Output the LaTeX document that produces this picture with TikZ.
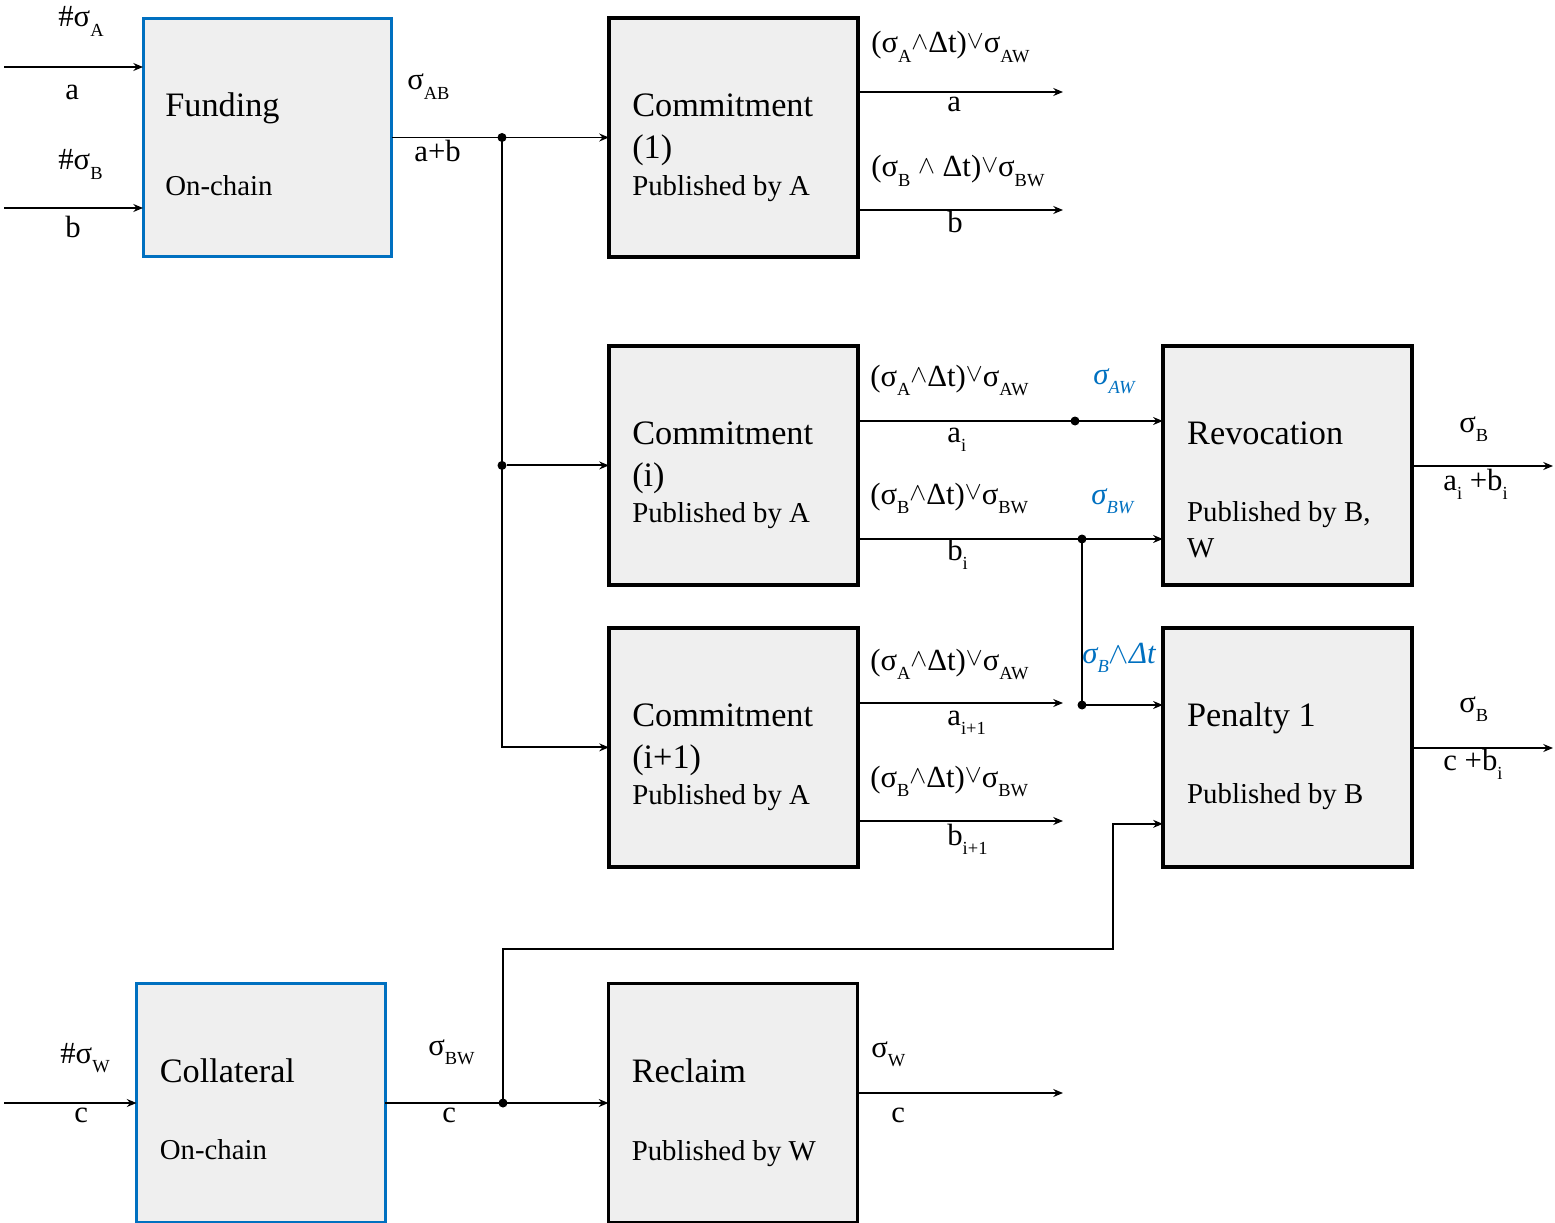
\documentclass[tikz,border=0pt]{standalone}
\usepackage{fontspec}
\setmainfont{Liberation Serif}
\usepackage{xcolor}
\usepackage{tikz}
\usetikzlibrary{arrows.meta, positioning, calc}
\definecolor{boxgray}{HTML}{EFEFEF}
\definecolor{chainblue}{HTML}{0070C0}
\definecolor{sigblue}{HTML}{0070C0}
\newcommand{\sub}[1]{\raisebox{-0.3em}{\fontsize{10.5}{12}\selectfont #1}}
\newcommand{\andsym}{\raisebox{0.1em}{\fontsize{15}{15}\selectfont$\wedge$}}
\newcommand{\orsym}{\raisebox{0.15em}{\fontsize{14}{14}\selectfont$\vee$}}
\tikzset{
    block/.style={
        rectangle,
        draw=black,
        line width=2pt,
        fill=boxgray,
        minimum width=4.98cm,
        minimum height=4.78cm,
        inner sep=0pt,
        outer sep=0pt
    },
    chain/.style={
        block,
        draw=chainblue,
        line width=1.7pt
    },
    title/.style={
        anchor=base west,
        inner sep=0pt,
        font=\fontsize{19.5}{23}\selectfont
    },
    subtitle/.style={
        anchor=base west,
        inner sep=0pt,
        font=\fontsize{16.4}{20}\selectfont
    },
    lbl/.style={
        anchor=base west,
        inner sep=0pt,
        font=\fontsize{17.5}{21}\selectfont
    },
    sig/.style={
        lbl,
        text=sigblue,
        font=\fontsize{17.5}{21}\selectfont\itshape
    },
    dot/.style={
        circle,
        fill=black,
        inner sep=0pt,
        minimum size=0.18cm
    },
    wire/.style={
        draw=black,
        line width=1.1pt,
        -{Stealth[length=5.5pt, width=4.5pt]}
    },
    track/.style={
        draw=black,
        line width=1.1pt
    }
}

\begin{document}
\begin{tikzpicture}[x=0.02cm, y=-0.02cm]
\useasboundingbox (0,0) rectangle (1555,1223);

% Funding and commitment transactions
\node[chain] (fund) at (267.5,137.5) {};
\node[block, right=4.34cm of fund] (com1) {};
\node[block, below=1.78cm of com1] (comi) {};
\node[block, below=0.86cm of comi] (comn) {};

% Revocation and penalty
\node[block, right=6.1cm of comi] (revo) {};
\node[block, right=6.1cm of comn] (pen) {};

% Collateral and reclaim
\node[chain] (coll) at (261,1103) {};
\node[block, right=4.46cm of coll] (recl) {};

% Box texts
\node[title] (fundT) at ($(fund.north west)+(22,98.5)$) {Funding};
\node[subtitle] (fundS) at ($(fund.north west)+(22,177)$) {On-chain};

\node[title] (com1T) at ($(com1.north west)+(23,98.5)$) {Commitment};
\node[title] (com1N) at ($(com1.north west)+(23,140.5)$) {(1)};
\node[subtitle] (com1S) at ($(com1.north west)+(23,177)$) {Published by A};

\node[title] (comiT) at ($(comi.north west)+(23,98.5)$) {Commitment};
\node[title] (comiN) at ($(comi.north west)+(23,140.5)$) {(i)};
\node[subtitle] (comiS) at ($(comi.north west)+(23,177)$) {Published by A};

\node[title] (comnT) at ($(comn.north west)+(23,98.5)$) {Commitment};
\node[title] (comnN) at ($(comn.north west)+(23,140.5)$) {(i+1)};
\node[subtitle] (comnS) at ($(comn.north west)+(23,177)$) {Published by A};

\node[title] (revoT) at ($(revo.north west)+(24,98.5)$) {Revocation};
\node[subtitle] (revoS) at ($(revo.north west)+(24,176)$) {Published by B,};
\node[subtitle] (revoW) at ($(revo.north west)+(24,212)$) {W};

\node[title] (penT) at ($(pen.north west)+(24,98.5)$) {Penalty 1};
\node[subtitle] (penS) at ($(pen.north west)+(24,176)$) {Published by B};

\node[title] (collT) at ($(coll.north west)+(23,99)$) {Collateral};
\node[subtitle] (collS) at ($(coll.north west)+(23,176)$) {On-chain};

\node[title] (reclT) at ($(recl.north west)+(23,98.5)$) {Reclaim};
\node[subtitle] (reclS) at ($(recl.north west)+(23,177)$) {Published by W};

% Inputs to funding
\coordinate (inA) at (4,67);
\coordinate (inB) at (4,208);
\draw[wire] (inA) -- (inA -| fund.west);
\draw[wire] (inB) -- (inB -| fund.west);
\node[lbl] (hashA) at (58,27) {\#σ\sub{A}};
\node[lbl] (valA) at (65,100) {a};
\node[lbl] (hashB) at (58,170) {\#σ\sub{B}};
\node[lbl] (valB) at (65,237) {b};

% Funding output split
\node[dot] (jtop) at (502,137.5) {};
\draw[wire] (fund.east) -- (com1.west);
\node[dot] (jmid) at (jtop |- comi.west) {};
\draw[wire] (jmid) -- (comi.west);
\draw[wire] (jtop.center) |- (comn.west);
\node[lbl] (sigAB) at (407,90) {σ\sub{AB}};
\node[lbl] (valAB) at (414,162) {a+b};

% Commitment (1) outputs
\coordinate (o1a) at (1063,92);
\coordinate (o1b) at (1063,210);
\draw[wire] (com1.east |- o1a) -- (o1a);
\draw[wire] (com1.east |- o1b) -- (o1b);
\node[lbl] (c1A) at (871,53) {(σ\sub{A}\andsym Δt)\orsym σ\sub{AW}};
\node[lbl] (c1a) at (947,112) {a};
\node[lbl] (c1B) at (871,177) {(σ\sub{B} \andsym\ Δt)\orsym σ\sub{BW}};
\node[lbl] (c1b) at (947,233) {b};

% Commitment (i) outputs
\node[dot] (dai) at (1075,421) {};
\node[dot] (dbi) at (1082,539) {};
\draw[wire] (comi.east |- dai) -- (revo.west |- dai);
\draw[wire] (comi.east |- dbi) -- (revo.west |- dbi);
\node[lbl] (ciA) at (870,386) {(σ\sub{A}\andsym Δt)\orsym σ\sub{AW}};
\node[lbl] (cia) at (947,442) {a\sub{i}};
\node[lbl] (ciB) at (870,504) {(σ\sub{B}\andsym Δt)\orsym σ\sub{BW}};
\node[lbl] (cib) at (947,560) {b\sub{i}};
\node[sig] (sigAW) at (1093,384) {σ\sub{AW}};
\node[sig] (sigBW) at (1091,504) {σ\sub{BW}};

% Penalty from b_i
\node[dot] (dpen) at (1082,705) {};
\draw[track] (dbi.center) -- (dpen.center);
\draw[wire] (dpen.center) -- (pen.west |- dpen);
\node[sig] (sigBt) at (1082,663) {σ\sub{B}$\wedge$Δt};

% Commitment (i+1) outputs
\coordinate (ona) at (1063,703);
\coordinate (onb) at (1063,821);
\draw[wire] (comn.east |- ona) -- (ona);
\draw[wire] (comn.east |- onb) -- (onb);
\node[lbl] (cnA) at (870,670) {(σ\sub{A}\andsym Δt)\orsym σ\sub{AW}};
\node[lbl] (cna) at (947,725) {a\sub{i+1}};
\node[lbl] (cnB) at (870,787) {(σ\sub{B}\andsym Δt)\orsym σ\sub{BW}};
\node[lbl] (cnb) at (947,845) {b\sub{i+1}};

% Revocation and penalty outputs
\coordinate (orevo) at (1553,466);
\coordinate (open) at (1553,748);
\draw[wire] (revo.east |- orevo) -- (orevo);
\draw[wire] (pen.east |- open) -- (open);
\node[lbl] (revoB) at (1459,432) {σ\sub{B}};
\node[lbl] (revoV) at (1443,490) {a\sub{i} +b\sub{i}};
\node[lbl] (penB) at (1459,712) {σ\sub{B}};
\node[lbl] (penV) at (1443,770) {c +b\sub{i}};

% Collateral input and outputs
\coordinate (inC) at (4,1103);
\draw[wire] (inC) -- (coll.west);
\node[lbl] (hashW) at (60,1063) {\#σ\sub{W}};
\node[lbl] (valC) at (74,1122) {c};

\node[dot] (jbot) at (503,1103) {};
\draw[wire] (coll.east) -- (recl.west);
\coordinate (kink) at (1113,949);
\coordinate (penlow) at ($(pen.south west)+(0,-43)$);
\draw[wire] (jbot.center) |- (kink) |- (penlow);
\node[lbl] (sigBWc) at (428,1055) {σ\sub{BW}};
\node[lbl] (valCc) at (442,1122) {c};

% Reclaim output
\coordinate (orecl) at (1063,1093);
\draw[wire] (recl.east |- orecl) -- (orecl);
\node[lbl] (sigW) at (871,1057) {σ\sub{W}};
\node[lbl] (valCr) at (891,1122) {c};

\end{tikzpicture}
\end{document}
